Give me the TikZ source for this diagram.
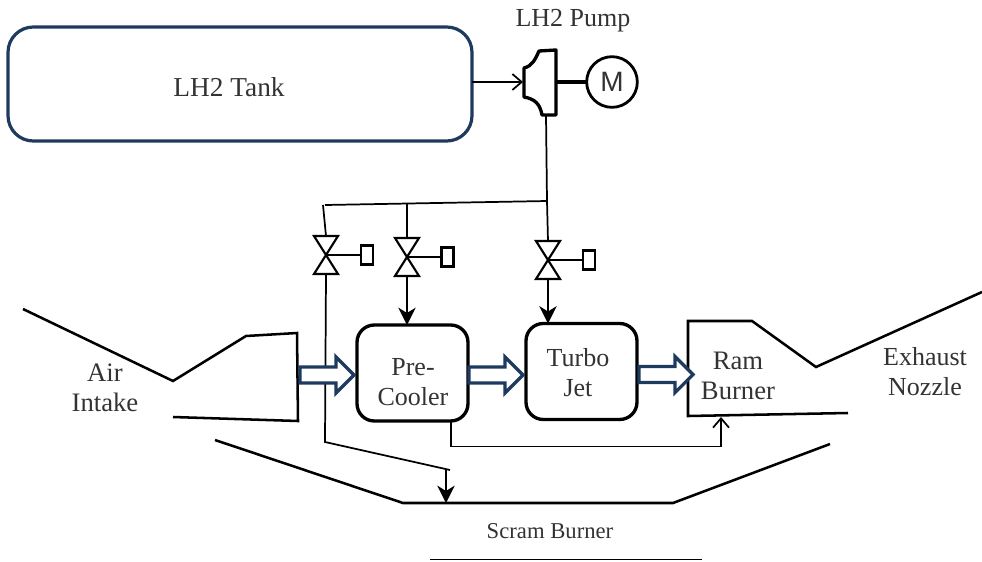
\documentclass[tikz,border=0pt]{standalone}
\usepackage{fontspec}
\setmainfont{Liberation Serif}
\setsansfont{Liberation Sans}
\usetikzlibrary{arrows.meta}
\definecolor{navy}{HTML}{1F3A5F}
\definecolor{ink}{HTML}{333333}
\tikzset{
  x=0.75pt,y=-0.75pt,
  pipe/.style={draw=black,line width=1.3pt},
  wall/.style={draw=black,line width=1.9pt,line join=miter},
  block/.style={draw=black,line width=2.5pt,rounded corners=13pt,outer sep=0pt,minimum width=83.25pt,minimum height=72pt,inner sep=0pt},
  label/.style={text=ink,align=center,inner sep=0pt,font=\fontsize{19.5}{22.5}\selectfont},
  flow/.style={draw=navy,line width=2.4pt,fill=white,line join=miter},
  solidtip/.style={-{Stealth[length=13pt,width=13pt,inset=4pt]}},
  opentip/.style={-{Straight Barb[length=7pt,width=12pt,line width=1.3pt]}},
  actuator/.style={draw=black,line width=1.6pt,outer sep=0pt,minimum width=9pt,minimum height=14.25pt,inner sep=0pt},
  valvebody/.style={draw=black,line width=1.6pt,line join=miter}
}
\newcommand{\myvalve}[5]{% name, cx, cy, boxx, boxy
  \coordinate (#1c) at (#2,#3);
  \coordinate (#1t) at (#2,#3-19);
  \coordinate (#1b) at (#2,#3+19);
  \node[actuator] (#1a) at (#4,#5) {};
  \draw[valvebody] (#1c) -- ++(-12,-19) -- ++(24,0) -- cycle;
  \draw[valvebody] (#1c) -- ++(-12,19) -- ++(24,0) -- cycle;
  \draw[valvebody] (#1c) -- (#1a.west);
}
\newcommand{\myflow}[3]{% x start, tip x, y
  \draw[flow] (#1,#3-8) -- (#2-18,#3-8) -- (#2-18,#3-18) -- (#2,#3) -- (#2-18,#3+18) -- (#2-18,#3+8) -- (#1,#3+8) -- cycle;
}
\begin{document}
\begin{tikzpicture}
\useasboundingbox (0,0) rectangle (982,561);

% tank
\node[draw=navy,line width=2.4pt,rounded corners=19pt,outer sep=0pt,minimum width=348pt,minimum height=85.5pt,inner sep=0pt] (tank) at (240,84) {};
\node[label,font=\fontsize{20.5}{24}\selectfont] (tanklabel) at (229,87) {LH2 Tank};
\node[label,font=\fontsize{19.5}{22}\selectfont] (pumplabel) at (573,21) {LH2 Pump};

% pump
\coordinate (pumpin) at (523,82);
\coordinate (pumpout) at (546,115);
\coordinate (pumpshaft) at (556,82);
\node[draw=black,circle,line width=2.1pt,minimum size=38pt,inner sep=0pt,outer sep=0pt,font=\sffamily\fontsize{21}{24}\selectfont,text=ink] (motor) at (612,82) {M};
\draw[black,line width=2.5pt,line join=round] (539,51) -- (556,50) -- (556,115) -- (542,115)
  .. controls (540,104) and (535,99) .. (524,97) -- (524,68)
  .. controls (532,66) and (535,60) .. (539,51) -- cycle;
\draw[black,line width=3.6pt] (pumpshaft) -- (motor.west);
\draw[pipe,opentip] (tank.east |- pumpin) -- (pumpin);

% valves
\myvalve{va}{326}{255}{367}{255}
\myvalve{vb}{407}{257}{447.5}{257}
\myvalve{vc}{548}{260}{589}{260}

% blocks
\node[block] (pre) at (412.5,373) {};
\node[block] (turbo) at (581.5,371.5) {};

% header and branches
\coordinate (hr) at (547,201);
\coordinate (hl) at (325,205);
\coordinate (hm) at (407,203);
\coordinate (hal) at (323,205);
\draw[pipe] (pumpout) -- (hr);
\draw[pipe] (hl) -- (hr);
\draw[pipe] (hal) -- (vat);
\draw[pipe] (hm) -- (vbt);
\draw[pipe] (hr) -- (vct);
\draw[pipe,solidtip] (vbb) -- (pre.north -| vbb);
\draw[pipe,solidtip] (vcb) -- (turbo.north -| vcb);

% scram feed
\coordinate (fa) at (325,442);
\coordinate (fb) at (450,470);
\coordinate (fc) at (446,469.5);
\coordinate (fd) at (446,503);
\draw[pipe,line join=miter] (vab) -- (fa) -- (fb);
\draw[pipe,solidtip] (fc) -- (fd);

% pre-cooler to ram burner
\coordinate (ra) at (451,446.5);
\coordinate (rb) at (721,446.5);
\coordinate (rc) at (721,417);
\draw[pipe,opentip,line join=miter] (pre.south -| ra) -- (ra) -- (rb) -- (rc);

% walls
\draw[wall] (23,309) -- (173,381) -- (246,336) -- (297,333) -- (298,421) -- (173,417);
\draw[wall] (848,413) -- (688,416) -- (688,321) -- (752,321) -- (816,367) -- (982,292);
\draw[wall] (215,440) -- (403,503) -- (673,503) -- (830,444);
\draw[black,line width=1.4pt] (430,559.5) -- (702,559.5);

% flow arrows
\myflow{300}{354}{375}
\myflow{469}{523}{375}
\myflow{639}{693}{374.5}

% labels
\node[label] (prelabel) at (413,382) {Pre-\\Cooler};
\node[label] (turbolabel) at (578,373) {Turbo\\Jet};
\node[label,font=\fontsize{20}{22.5}\selectfont] (air) at (105,388) {Air\\Intake};
\node[label,font=\fontsize{20}{22.5}\selectfont] (ram) at (738,375.5) {Ram\\Burner};
\node[label] (noz) at (925,371.5) {Exhaust\\Nozzle};
\node[label,font=\fontsize{17}{20}\selectfont] (scram) at (550,531) {Scram Burner};
\end{tikzpicture}
\end{document}
